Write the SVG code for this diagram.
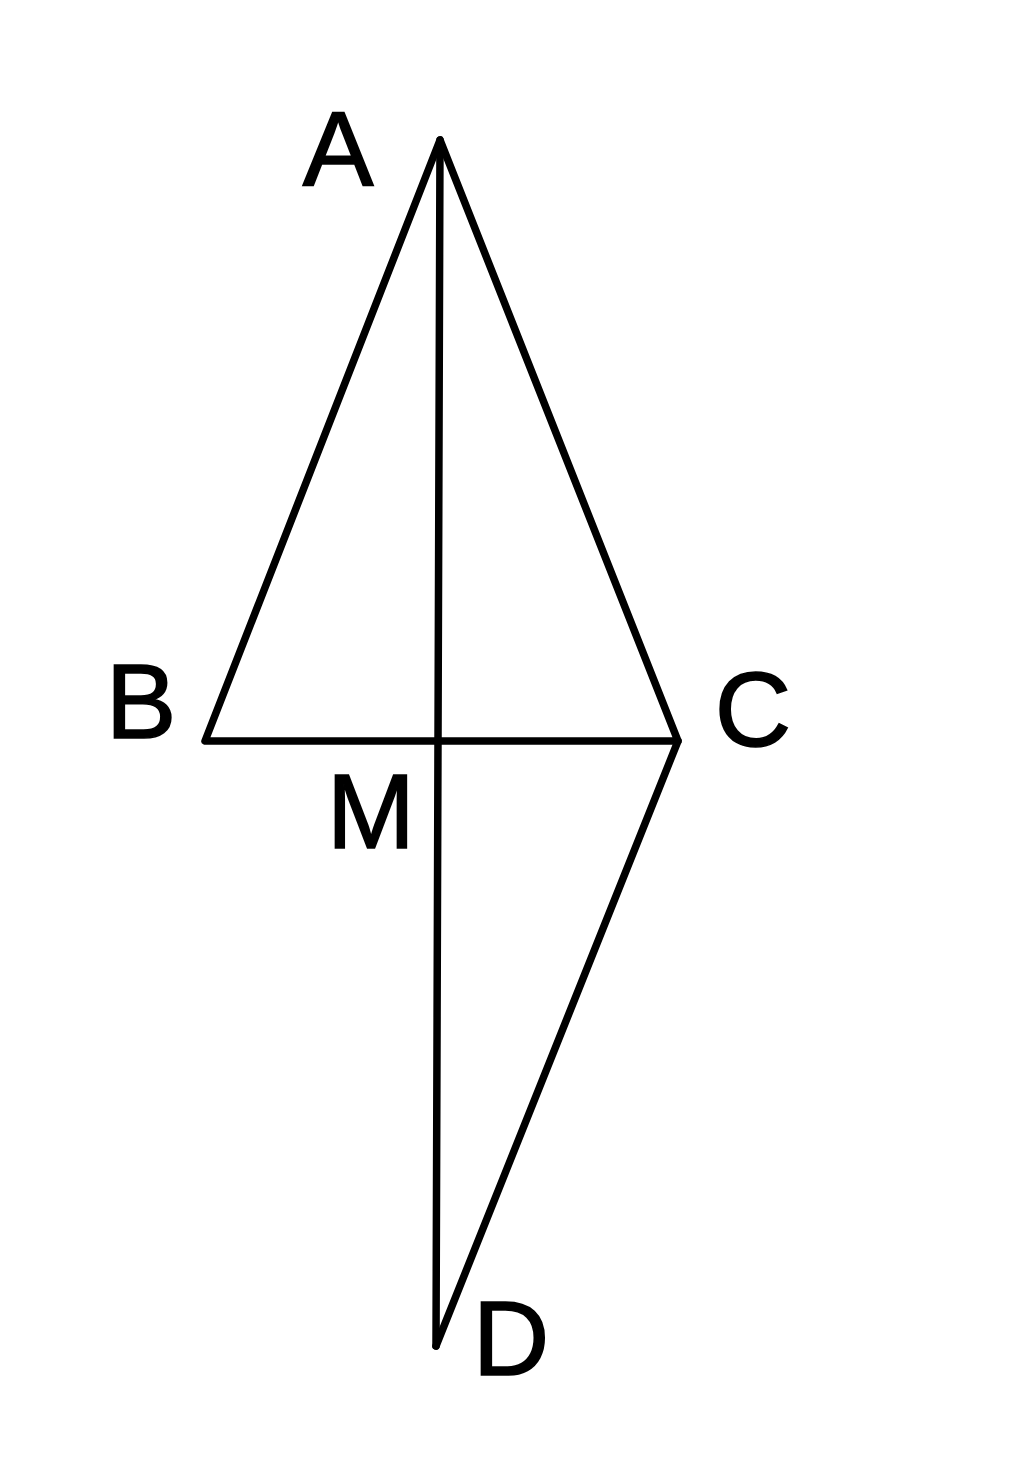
<svg xmlns="http://www.w3.org/2000/svg" width="1024" height="1461" viewBox="0 0 1024 1461">
<style>
.ln{fill:none;stroke:#000;stroke-width:7.5;stroke-linecap:round;stroke-linejoin:round}
.lb{font-family:"Liberation Sans","Noto Sans",sans-serif;font-size:106px;fill:#000;stroke:#000;stroke-width:1.6;text-anchor:middle}
</style>
<rect width="1024" height="1461" fill="#fff"/>
<g id="connectors">
<path class="ln" d="M440,140 L205,741 L678,741 Z"/>
<path class="ln" d="M678,741 L436,1346"/>
<path class="ln" d="M440,140 L436,1346"/>
</g>
<g id="A"><text class="lb" x="338" y="185">A</text></g>
<g id="B"><text class="lb" x="141" y="738">B</text></g>
<g id="C"><text class="lb" x="753" y="746">C</text></g>
<g id="M"><text class="lb" x="371" y="848">M</text></g>
<g id="D"><text class="lb" x="511" y="1375">D</text></g>
</svg>
